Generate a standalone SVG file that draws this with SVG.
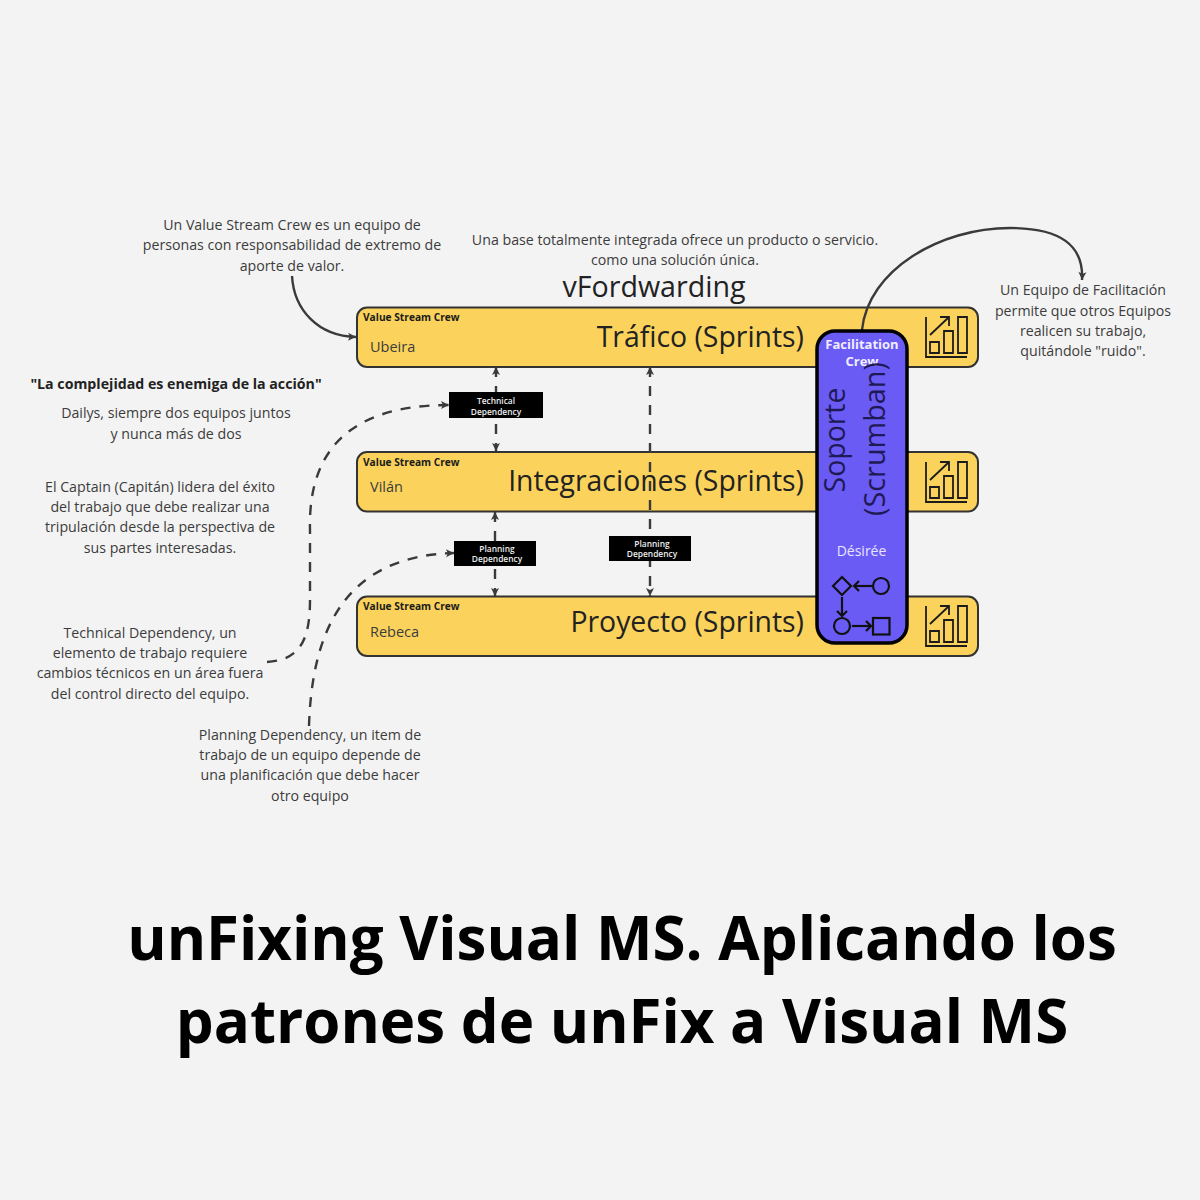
<svg xmlns="http://www.w3.org/2000/svg" width="1200" height="1200" viewBox="0 0 1200 1200">
<style>
text{font-family:"Open Sans","Noto Sans",sans-serif;fill:#333}
.n{font-size:14.2px;text-anchor:middle;fill:#3c3c3c}
.t{font-size:28.4px;text-anchor:end;fill:#222}
.h{font-size:10.2px;font-weight:700;fill:#1a1a1a}
.o{font-size:14.5px;fill:#3c3c3c}
.b{fill:#fbd35c;stroke:#333;stroke-width:2}
.k{fill:#000}
.l{font-size:8.4px;font-weight:600;text-anchor:middle;fill:#eee}
.c{fill:none;stroke:#3a3a3a;stroke-width:2.4}
.d{stroke-dasharray:10 9}
.i{fill:none;stroke:#1c1c1c;stroke-width:1.8}
.w{fill:none;stroke:#111;stroke-width:2.2}
.m{font-size:60px;font-weight:700;text-anchor:middle;fill:#000}
</style>
<defs>
<marker id="a" markerUnits="userSpaceOnUse" markerWidth="10" markerHeight="10" refX="9" refY="5" orient="auto-start-reverse"><path d="M1 1L9 5L1 9L3 5Z" fill="#3a3a3a"/></marker>
<marker id="s" markerUnits="userSpaceOnUse" markerWidth="10" markerHeight="12" refX="8" refY="6" orient="auto"><path d="M3 1L8 6L3 11" fill="none" stroke="#111" stroke-width="2.2"/></marker>
<g id="chart"><path class="i" d="M1 1V41H42"/><path class="i" d="M5 26H14V37H5ZM19 15H28V37H19ZM33 1H42V37H33Z"/><path class="i" d="M5 19L24 1M15 1H24V10"/></g>
</defs>
<rect width="1200" height="1200" fill="#f3f3f3"/>
<g id="crew-trafico"><rect class="b" x="357" y="307.500" width="621" height="59.500" rx="10"/><text class="h" x="363" y="321">Value Stream Crew</text><text class="o" x="370" y="352">Ubeira</text><text class="t" x="804" y="347">Tráfico (Sprints)</text><use href="#chart" x="925" y="316"/></g>
<g id="crew-integraciones"><rect class="b" x="357" y="452" width="621" height="59.500" rx="10"/><text class="h" x="363" y="466">Value Stream Crew</text><text class="o" x="370" y="492">Vilán</text><text class="t" x="804" y="491">Integraciones (Sprints)</text><use href="#chart" x="925" y="461"/></g>
<g id="crew-proyecto"><rect class="b" x="357" y="596.500" width="621" height="59.500" rx="10"/><text class="h" x="363" y="610">Value Stream Crew</text><text class="o" x="370" y="637">Rebeca</text><text class="t" x="804" y="632">Proyecto (Sprints)</text><use href="#chart" x="925" y="605"/></g>
<g id="connectors">
<path class="c" d="M292 276C294 310 318 336 356 337" marker-end="url(#a)"/>
<path class="c d" d="M496 367V451" marker-start="url(#a)" marker-end="url(#a)"/>
<path class="c d" d="M495 512V596" marker-start="url(#a)" marker-end="url(#a)"/>
<path class="c d" d="M650 367V596" marker-start="url(#a)" marker-end="url(#a)"/>
<path class="c d" d="M267 662C300 660 310 640 310 600V530C308 455 345 405 449 405" marker-end="url(#a)"/>
<path class="c d" d="M309 726C312 630 345 556 454 553" marker-end="url(#a)"/>
<path class="c" d="M862 330C868 270 940 228 1010 228C1060 228 1084 245 1082 280" marker-end="url(#a)"/>
</g>
<g id="dep-technical"><rect class="k" x="449" y="392" width="94" height="26"/><text class="l" x="496" y="403.500">Technical</text><text class="l" x="496" y="415">Dependency</text></g>
<g id="dep-planning-1"><rect class="k" x="454" y="541" width="82" height="25"/><text class="l" x="497" y="551.500">Planning</text><text class="l" x="497" y="562">Dependency</text></g>
<g id="dep-planning-2"><rect class="k" x="609" y="536" width="82" height="25"/><text class="l" x="652" y="546.500">Planning</text><text class="l" x="652" y="557">Dependency</text></g>
<g id="facilitation">
<rect x="817" y="331" width="90" height="312" rx="18" fill="#6a5bf5" stroke="#000" stroke-width="3.500"/>
<text x="862" y="349" font-size="13px" font-weight="700" text-anchor="middle" style="fill:#f0eeff">Facilitation</text>
<text x="862" y="366" font-size="13px" font-weight="700" text-anchor="middle" style="fill:#f0eeff">Crew</text>
<text transform="translate(845 440) rotate(-90)" font-size="28.400px" text-anchor="middle" style="fill:#1f1a55">Soporte</text>
<text transform="translate(885 439) rotate(-90)" font-size="28.800px" text-anchor="middle" style="fill:#1f1a55">(Scrumban)</text>
<text x="861.500" y="556" font-size="14px" text-anchor="middle" style="fill:#e8e6ff">Désirée</text>
<path class="w" d="M842 577L851 586L842 595L833 586Z"/><circle class="w" cx="881" cy="586" r="8"/><path class="w" d="M872 586H854" marker-end="url(#s)"/>
<path class="w" d="M842 597V616" marker-end="url(#s)"/><circle class="w" cx="842" cy="626" r="8"/><path class="w" d="M852 626H871" marker-end="url(#s)"/><rect class="w" x="873" y="618" width="16.500" height="16.500"/>
</g>
<g id="notes">
<text class="n" x="292" y="230">Un Value Stream Crew es un equipo de</text>
<text class="n" x="292" y="250">personas con responsabilidad de extremo de</text>
<text class="n" x="292" y="271">aporte de valor.</text>
<text class="n" x="675" y="245">Una base totalmente integrada ofrece un producto o servicio.</text>
<text class="n" x="675" y="265">como una solución única.</text>
<text x="654" y="297" font-size="28.600px" text-anchor="middle" style="fill:#222">vFordwarding</text>
<text x="176" y="389" font-size="14.200px" font-weight="700" text-anchor="middle" style="fill:#222">"La complejidad es enemiga de la acción"</text>
<text class="n" x="176" y="418">Dailys, siempre dos equipos juntos</text>
<text class="n" x="176" y="439">y nunca más de dos</text>
<text class="n" x="160" y="492">El Captain (Capitán) lidera del éxito</text>
<text class="n" x="160" y="512">del trabajo que debe realizar una</text>
<text class="n" x="160" y="532">tripulación desde la perspectiva de</text>
<text class="n" x="160" y="553">sus partes interesadas.</text>
<text class="n" x="150" y="638">Technical Dependency, un</text>
<text class="n" x="150" y="658">elemento de trabajo requiere</text>
<text class="n" x="150" y="678">cambios técnicos en un área fuera</text>
<text class="n" x="150" y="699">del control directo del equipo.</text>
<text class="n" x="310" y="740">Planning Dependency, un item de</text>
<text class="n" x="310" y="760">trabajo de un equipo depende de</text>
<text class="n" x="310" y="780">una planificación que debe hacer</text>
<text class="n" x="310" y="801">otro equipo</text>
<text class="n" x="1083" y="295">Un Equipo de Facilitación</text>
<text class="n" x="1083" y="316">permite que otros Equipos</text>
<text class="n" x="1083" y="336">realicen su trabajo,</text>
<text class="n" x="1083" y="356">quitándole "ruido".</text>
</g>
<g id="title">
<text class="m" x="622" y="960">unFixing Visual MS. Aplicando los</text>
<text class="m" x="622" y="1043">patrones de unFix a Visual MS</text>
</g>
</svg>
